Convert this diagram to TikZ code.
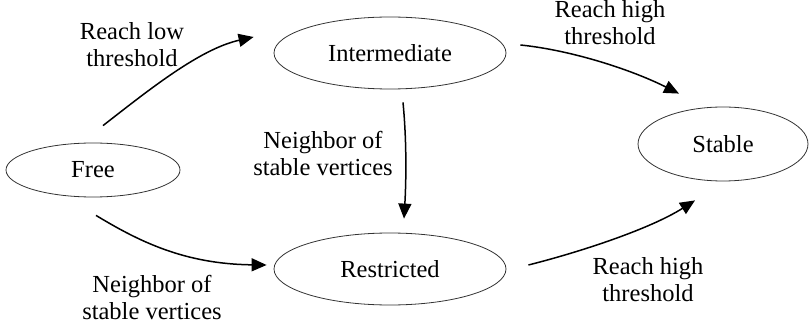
\documentclass[tikz,border=0pt]{standalone}
\usepackage{fontspec}
\setmainfont{Liberation Serif}
\usetikzlibrary{shapes.geometric,arrows.meta}
\begin{document}
\begin{tikzpicture}[x=1pt,y=1pt,
  state/.style={ellipse,draw=black!80,line width=0.8pt,inner sep=0pt,font=\fontsize{24.5}{27}\selectfont},
  lbl/.style={align=center,inner sep=0pt,font=\fontsize{24.5}{27}\selectfont},
  conn/.style={line width=1.5pt,-{Triangle[length=15pt,width=13pt]}}]
\useasboundingbox (0,0) rectangle (810,324);
\node[state,minimum width=174pt,minimum height=54pt] (free) at (93,154) {Free};
\node[state,minimum width=232pt,minimum height=72pt] (inter) at (390,271) {Intermediate};
\node[state,minimum width=232pt,minimum height=72pt] (restr) at (390,55) {Restricted};
\node[state,minimum width=170pt,minimum height=74pt] (stable) at (723,180) {Stable};
% connector ends
\coordinate (f1) at ([shift={(10,17)}]free.north);
\coordinate (i1) at ([shift={(-20,16)}]inter.west);
\coordinate (f2) at ([shift={(3,-18)}]free.south);
\coordinate (r1) at ([shift={(-7,4)}]restr.west);
\coordinate (i2) at ([shift={(13,-13)}]inter.south);
\coordinate (r2) at ([shift={(14,14)}]restr.north);
\coordinate (i3) at ([shift={(14,8)}]inter.east);
\coordinate (s1) at ([shift={(-44,13)}]stable.north);
\coordinate (r3) at ([shift={(22,4)}]restr.east);
\coordinate (s2) at ([shift={(-28,-19)}]stable.south);
\draw[conn] (f1) .. controls (150,235) and (200,275) .. (i1);
\draw[conn] (f2) .. controls (140,82) and (185,60) .. (r1);
\draw[conn] (i2) .. controls (407,180) and (406,140) .. (r2);
\draw[conn] (i3) .. controls (570,274) and (630,255) .. (s1);
\draw[conn] (r3) .. controls (580,72) and (650,95) .. (s2);
\node[lbl] (l1) at (132,279) {Reach low\\threshold};
\node[lbl] (l2) at (323,171) {Neighbor of\\stable vertices};
\node[lbl] (l3) at (152,27) {Neighbor of\\stable vertices};
\node[lbl] (l4) at (610,301) {Reach high\\threshold};
\node[lbl] (l5) at (648,44) {Reach high\\threshold};
\end{tikzpicture}
\end{document}
